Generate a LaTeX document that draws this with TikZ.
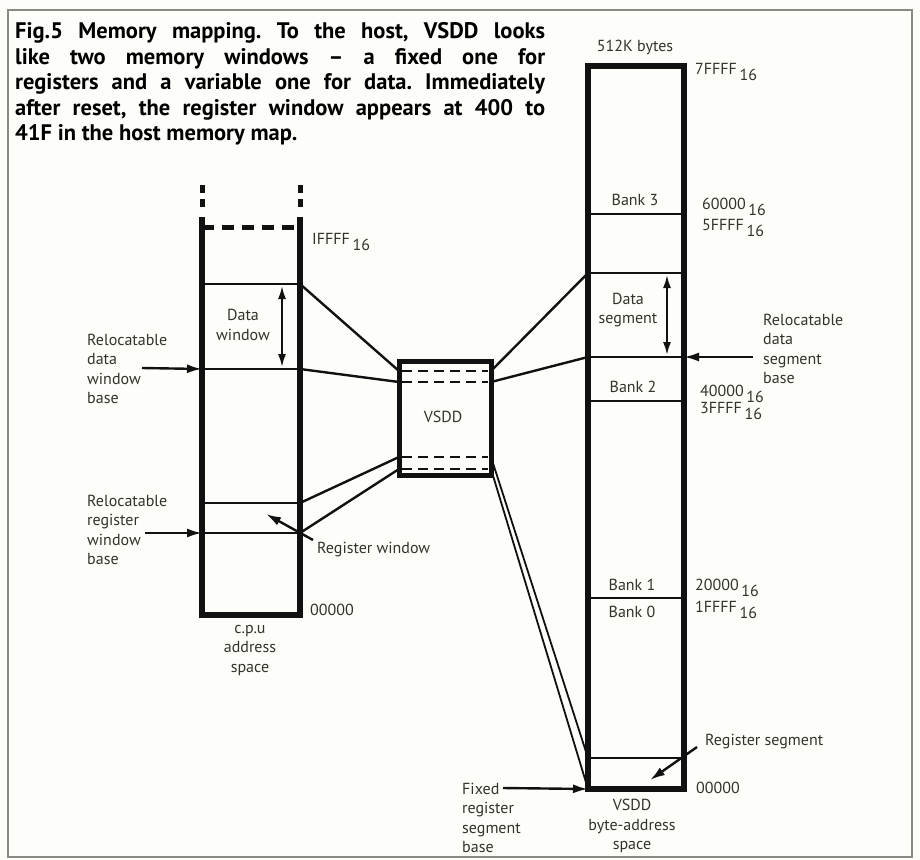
\documentclass[tikz,border=0pt]{standalone}
\usepackage{fontspec}
\setmainfont{PT Sans}
\usetikzlibrary{arrows.meta}
\definecolor{bgc}{HTML}{FDFDFA}
\definecolor{ink}{HTML}{111111}
\definecolor{txt}{HTML}{33332A}
\definecolor{framec}{HTML}{8A8A84}
\newcommand\hexlbl[2]{#1\,\raisebox{-6pt}{#2}}
\newcommand\capline[1]{\makebox[530pt][s]{#1}}
\frenchspacing
\tikzset{
  colbox/.style={draw=ink, line width=5.5pt, line join=miter},
  divider/.style={draw=ink, line width=2pt},
  conn/.style={draw=ink, line width=2.4pt, line cap=round},
  thinconn/.style={draw=ink, line width=1.8pt},
  dashline/.style={draw=ink, line width=2.4pt, dash pattern=on 10pt off 6pt},
  lbl/.style={text=txt, inner sep=0pt, font=\fontsize{16}{19.5}\selectfont},
  caption/.style={text=black, inner sep=0pt, anchor=base west, font=\fontsize{22.5}{25}\selectfont\bfseries},
  arr/.style={draw=ink, line width=2.4pt, -{Latex[length=15pt,width=9pt]}},
  darr/.style={draw=ink, line width=2pt, {Latex[length=13pt,width=8pt]}-{Latex[length=13pt,width=8pt]}},
}
\begin{document}
\begin{tikzpicture}[x=1pt,y=-1pt]
\fill[bgc] (0,0) rectangle (920,859);
\useasboundingbox (0,0) rectangle (920,859);
% frame
\draw[framec, line width=2pt] (8,10) rectangle (912,857);

% caption
\node[caption] (cap1) at (15,38) {\capline{Fig.5 Memory mapping. To the host, VSDD looks}};
\node[caption] (cap2) at (15,64) {\capline{like two memory windows -- a fixed one for}};
\node[caption] (cap3) at (15,89.5) {\capline{registers and a variable one for data. Immediately}};
\node[caption] (cap4) at (15,115) {\capline{after reset, the register window appears at 400 to}};
\node[caption] (cap5) at (15,140.5) {41F in the host memory map.};

% ---------- left column (c.p.u address space)
\coordinate (LTL) at (202,217); \coordinate (LTR) at (300,217);
\coordinate (LBL) at (202,615); \coordinate (LBR) at (300,615);
\coordinate (LdL) at (202,227); \coordinate (LdR) at (300,227);
\coordinate (Ldw1L) at (202,284); \coordinate (Ldw1R) at (300,284);
\coordinate (Ldw2L) at (202,369); \coordinate (Ldw2R) at (300,369);
\coordinate (Lrw1L) at (202,503); \coordinate (Lrw1R) at (300,503);
\coordinate (Lrw2L) at (202,533); \coordinate (Lrw2R) at (300,533);
\coordinate (LvA1) at (202,185); \coordinate (LvA2) at (202,208);
\coordinate (LvB1) at (300,185); \coordinate (LvB2) at (300,208);
\draw[colbox] (LTL) -- (LBL) -- (LBR) -- (LTR);
\draw[draw=ink, line width=5pt, dash pattern=on 12pt off 8pt] (LdL) -- (LdR);
\draw[draw=ink, line width=5pt, dash pattern=on 8pt off 6pt] (LvA1) -- (LvA2);
\draw[draw=ink, line width=5pt, dash pattern=on 8pt off 6pt] (LvB1) -- (LvB2);
\draw[divider] (Ldw1L) -- (Ldw1R);
\draw[divider] (Ldw2L) -- (Ldw2R);
\draw[divider] (Lrw1L) -- (Lrw1R);
\draw[divider] (Lrw2L) -- (Lrw2R);
\coordinate (LdaT) at (282,286); \coordinate (LdaB) at (282,367);
\draw[darr] (LdaT) -- (LdaB);
\node[lbl, align=center] (datawin) at (243,325) {Data\\window};
\node[lbl, anchor=west] (ifff) at (312,242) {\hexlbl{IFFFF}{16}};
\node[lbl, anchor=west] (lzero) at (310,610) {00000};
\node[lbl, align=center] (cpulbl) at (250,650) {c.p.u\\address\\space};

\node[lbl, anchor=west, align=left] (rdwb) at (87,369) {Relocatable\\data\\window\\base};
\coordinate (rdwbA) at (142,368);
\draw[arr] (rdwbA) -- (Ldw2L);
\node[lbl, anchor=west, align=left] (rrwb) at (87,530) {Relocatable\\register\\window\\base};
\coordinate (rrwbA) at (145,533);
\draw[arr] (rrwbA) -- (Lrw2L);
\node[lbl, anchor=west] (regwin) at (317,550) {Register window};
\coordinate (regwinS) at (313,540); \coordinate (regwinE) at (266,514);
\draw[arr] (regwinS) -- (regwinE);

% ---------- VSDD
\node[draw=ink, line width=5pt, minimum width=92pt, minimum height=114pt, inner sep=0pt] (vsdd) at (445,418) {};
\node[lbl] (vsddlbl) at (443,417) {VSDD};
\coordinate (V1L) at (399,371); \coordinate (V1R) at (491,371);
\coordinate (V2L) at (399,382); \coordinate (V2R) at (491,382);
\coordinate (V3L) at (399,457); \coordinate (V3R) at (491,457);
\coordinate (V4L) at (399,469); \coordinate (V4R) at (491,469);
\coordinate (V1a) at (402,371); \coordinate (V1b) at (488,371);
\coordinate (V2a) at (402,382); \coordinate (V2b) at (488,382);
\coordinate (V3a) at (402,457); \coordinate (V3b) at (488,457);
\coordinate (V4a) at (402,469); \coordinate (V4b) at (488,469);
\draw[dashline] (V1a) -- (V1b);
\draw[dashline] (V2a) -- (V2b);
\draw[dashline] (V3a) -- (V3b);
\draw[dashline] (V4a) -- (V4b);

% ---------- right column (VSDD byte-address space)
\coordinate (RTL) at (588,66); \coordinate (RBR) at (684,789);
\coordinate (RBL) at (588,789);
\draw[colbox, line width=6pt] (RTL) rectangle (RBR);
\coordinate (Rb3L) at (588,214); \coordinate (Rb3R) at (684,214);
\coordinate (Rds1L) at (588,273); \coordinate (Rds1R) at (684,273);
\coordinate (Rds2L) at (588,357); \coordinate (Rds2R) at (684,357);
\coordinate (Rb2L) at (588,401); \coordinate (Rb2R) at (684,401);
\coordinate (Rb1L) at (588,598); \coordinate (Rb1R) at (684,598);
\coordinate (Rrs1L) at (588,758); \coordinate (Rrs1R) at (684,758);
\draw[divider] (Rb3L) -- (Rb3R);
\draw[divider] (Rds1L) -- (Rds1R);
\draw[divider] (Rds2L) -- (Rds2R);
\draw[divider] (Rb2L) -- (Rb2R);
\draw[divider] (Rb1L) -- (Rb1R);
\draw[divider] (Rrs1L) -- (Rrs1R);
\coordinate (RdaT) at (667,275); \coordinate (RdaB) at (667,355);
\draw[darr] (RdaT) -- (RdaB);

\node[lbl] (k512) at (635,47) {512K bytes};
\node[lbl, anchor=west] (h7) at (695,72) {\hexlbl{7FFFF}{16}};
\node[lbl] (bank3) at (635,200) {Bank 3};
\node[lbl, anchor=west] (h6) at (702,207) {\hexlbl{60000}{16}};
\node[lbl, anchor=west] (h5) at (702,228) {\hexlbl{5FFFF}{16}};
\node[lbl, align=center] (dataseg) at (628,310) {Data\\segment};
\node[lbl, anchor=west, align=left] (rdsb) at (763,349) {Relocatable\\data\\segment\\base};
\coordinate (rdsbA) at (753,357);
\draw[arr] (rdsbA) -- (Rds2R);
\node[lbl] (bank2) at (633,387) {Bank 2};
\node[lbl, anchor=west] (h4) at (700,394) {\hexlbl{40000}{16}};
\node[lbl, anchor=west] (h3) at (700,411) {\hexlbl{3FFFF}{16}};
\node[lbl] (bank1) at (632,585) {Bank 1};
\node[lbl] (bank0) at (632,612) {Bank 0};
\node[lbl, anchor=west] (h2) at (695,588) {\hexlbl{20000}{16}};
\node[lbl, anchor=west] (h1) at (695,610) {\hexlbl{1FFFF}{16}};
\node[lbl, anchor=west] (regseg) at (705,742) {Register segment};
\coordinate (regsegS) at (697,747); \coordinate (regsegE) at (650,780);
\draw[arr] (regsegS) -- (regsegE);
\node[lbl, anchor=west] (rzero) at (696,788) {00000};
\node[lbl, align=center] (vsddsp) at (632,826) {VSDD\\byte-address\\space};
\node[lbl, anchor=west, align=left] (frsb) at (462,818) {Fixed\\register\\segment\\base};
\coordinate (frsbA) at (503,788);
\draw[arr] (frsbA) -- (RBL);

% ---------- connectors
\draw[conn] (Ldw1R) -- (V1L);
\draw[conn] (Ldw2R) -- (V2L);
\draw[conn] (Lrw1R) -- (V3L);
\draw[conn] (Lrw2R) -- (V4L);
\draw[conn] (V1R) -- (Rds1L);
\draw[conn] (V2R) -- (Rds2L);
\draw[thinconn] (V3R) -- (Rrs1L);
\draw[thinconn] (V4R) -- (RBL);
\end{tikzpicture}
\end{document}
